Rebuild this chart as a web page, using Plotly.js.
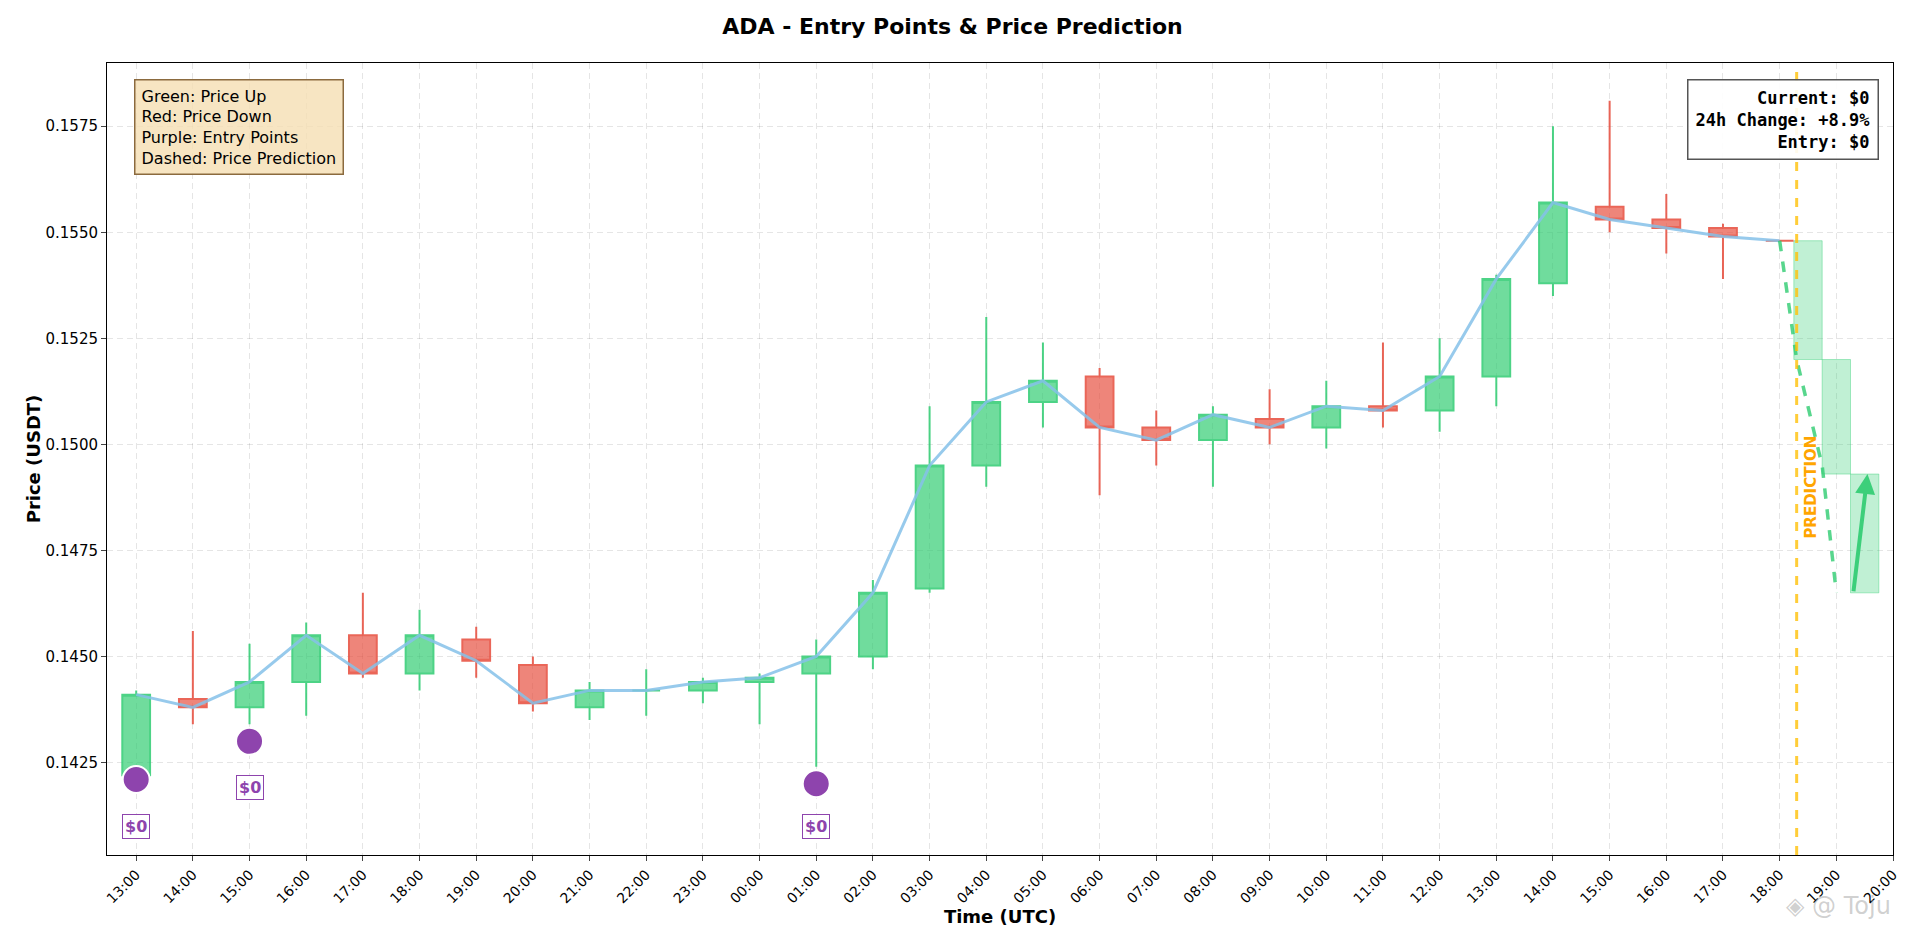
<!DOCTYPE html>
<html>
<head>
<meta charset="utf-8">
<script src="https://cdn.plot.ly/plotly-3.0.1.min.js"></script>
<style>
  html, body { margin: 0; padding: 0; background: #fff; }
  #plot { width: 1905px; height: 947px; }
</style>
</head>
<body>
<div id="plot"></div>
<script>
// hourly labels for the x axis (13:00 day 1 to 20:00 day 2)
var tickLabels = ['13:00','14:00','15:00','16:00','17:00','18:00','19:00','20:00','21:00','22:00','23:00',
  '00:00','01:00','02:00','03:00','04:00','05:00','06:00','07:00','08:00','09:00','10:00','11:00','12:00',
  '13:00','14:00','15:00','16:00','17:00','18:00','19:00','20:00'];

// candles, one per hour from index 0
var opens  = [0.1422,0.1440,0.1438,0.1444,0.1455,0.1446,0.1454,0.1448,0.1438,0.1442,0.1442,0.1444,0.1446,0.1450,0.1466,
  0.1495,0.1510,0.1516,0.1504,0.1501,0.1506,0.1504,0.1509,0.1508,0.1516,0.1538,0.1556,0.1553,0.1551,0.1548];
var closes = [0.1441,0.1438,0.1444,0.1455,0.1446,0.1455,0.1449,0.1439,0.1442,0.1442,0.1444,0.1445,0.1450,0.1465,0.1495,
  0.1510,0.1515,0.1504,0.1501,0.1507,0.1504,0.1509,0.1508,0.1516,0.1539,0.1557,0.1553,0.1551,0.1549,0.1548];
var highs  = [0.1442,0.1456,0.1453,0.1458,0.1465,0.1461,0.1457,0.1450,0.1444,0.1447,0.1445,0.1446,0.1454,0.1468,0.1509,
  0.1530,0.1524,0.1518,0.1508,0.1509,0.1513,0.1515,0.1524,0.1525,0.1540,0.1575,0.1581,0.1559,0.1552,0.1548];
var lows   = [0.1422,0.1434,0.1434,0.1436,0.1445,0.1442,0.1445,0.1437,0.1435,0.1436,0.1439,0.1434,0.1424,0.1447,0.1465,
  0.1490,0.1504,0.1488,0.1495,0.1490,0.1500,0.1499,0.1504,0.1503,0.1509,0.1535,0.1550,0.1545,0.1539,0.1548];

// entry points
var entryX = [0, 2, 12];
var entryY = [0.1421, 0.1430, 0.1420];
var entryLabelY = [0.1410, 0.1419, 0.1410];

// prediction
var predBoxX = [29.5, 30, 30.5];
var predBoxLow = [0.1520, 0.1493, 0.1465];
var predBoxHigh = [0.1548, 0.1520, 0.1493];
var predLineX = [29, 29.3, 29.75, 30];
var predLineY = [0.1548, 0.1520, 0.1495, 0.1465];
var predStartX = 29.3;

var idx = closes.map(function (_, i) { return i; });
var green = '#2ecc71', red = '#e74c3c';

var traces = [
  {
    type: 'candlestick', x: idx, open: opens, high: highs, low: lows, close: closes,
    increasing: { line: { color: green, width: 2 }, fillcolor: 'rgba(46,204,113,0.8)' },
    decreasing: { line: { color: red, width: 2 }, fillcolor: 'rgba(231,76,60,0.8)' },
    whiskerwidth: 0, opacity: 0.85, hoverinfo: 'skip', showlegend: false
  },
  {
    type: 'scatter', mode: 'lines', x: idx, y: closes,
    line: { color: '#85c1e9', width: 3 }, opacity: 0.85, showlegend: false, hoverinfo: 'skip'
  },
  {
    type: 'bar', x: predBoxX,
    base: predBoxLow, y: predBoxHigh.map(function (h, i) { return h - predBoxLow[i]; }),
    width: 0.5, marker: { color: 'rgba(46,204,113,0.3)', line: { color: 'rgba(46,204,113,0.4)', width: 1 } },
    showlegend: false, hoverinfo: 'skip'
  },
  {
    type: 'scatter', mode: 'lines', x: predLineX, y: predLineY,
    line: { color: 'rgba(46,204,113,0.8)', width: 3.5, dash: 'dash' }, showlegend: false, hoverinfo: 'skip'
  },
  {
    type: 'scatter', mode: 'markers', x: entryX, y: entryY,
    marker: { color: '#8e44ad', size: 27, line: { color: '#fff', width: 2 } }, showlegend: false, hoverinfo: 'skip'
  }
];

var annotations = [
  {
    xref: 'paper', yref: 'paper', x: 0.015, y: 0.98, xanchor: 'left', yanchor: 'top', align: 'left',
    text: 'Green: Price Up<br>Red: Price Down<br>Purple: Entry Points<br>Dashed: Price Prediction',
    showarrow: false, font: { family: 'DejaVu Sans', size: 16, color: '#000' },
    bgcolor: 'rgba(245,222,179,0.8)', bordercolor: '#8b6a3e', borderwidth: 1.5, borderpad: 6
  },
  {
    xref: 'paper', yref: 'paper', x: 0.992, y: 0.98, xanchor: 'right', yanchor: 'top', align: 'right',
    text: '<b>Current: $0<br>24h Change: +8.9%<br>Entry: $0</b>',
    showarrow: false, font: { family: 'DejaVu Sans Mono', size: 17, color: '#000' },
    bgcolor: 'rgba(255,255,255,0.9)', bordercolor: '#555', borderwidth: 1.5, borderpad: 7
  },
  {
    x: predStartX + 0.25, y: 0.1490, text: '<b>PREDICTION</b>', textangle: -90, showarrow: false,
    font: { family: 'DejaVu Sans', size: 15, color: '#ffa500' }
  },
  {
    x: 30.55, y: 0.1493, ax: 30.3, ay: 0.1465, axref: 'x', ayref: 'y', showarrow: true, text: '',
    arrowhead: 2, arrowsize: 1, arrowwidth: 4, arrowcolor: 'rgba(46,204,113,0.9)'
  },
  {
    xref: 'paper', yref: 'paper', x: 1.0, y: -0.085, xanchor: 'right', showarrow: false,
    text: '\u25C8 @ Toju', font: { family: 'DejaVu Sans', size: 24, color: 'rgba(150,150,150,0.45)' }
  }
];
entryX.forEach(function (x, i) {
  annotations.push({
    x: x, y: entryLabelY[i], text: '<b>$0</b>', showarrow: false,
    font: { family: 'DejaVu Sans', size: 16, color: '#8e44ad' },
    bgcolor: 'rgba(255,255,255,0.9)', bordercolor: '#8e44ad', borderwidth: 1, borderpad: 2
  });
});

var layout = {
  width: 1905, height: 947,
  margin: { l: 107, r: 12, t: 63, b: 92 },
  paper_bgcolor: '#fff', plot_bgcolor: '#fff',
  title: { text: '<b>ADA - Entry Points &amp; Price Prediction</b>', x: 0.5, y: 0.98, yanchor: 'top',
    font: { family: 'DejaVu Sans', size: 22, color: '#000' } },
  font: { family: 'DejaVu Sans', color: '#000' },
  bargap: 0,
  xaxis: {
    range: [-0.515, 31], tickmode: 'array', tickvals: tickLabels.map(function (_, i) { return i; }),
    ticktext: tickLabels, tickangle: -45, tickfont: { size: 14 },
    showgrid: true, gridcolor: 'rgba(0,0,0,0.1)', griddash: '6px,4px',
    showline: true, linecolor: '#000', mirror: true, ticks: 'outside', ticklen: 5,
    rangeslider: { visible: false }, zeroline: false,
    title: { text: '<b>Time (UTC)</b>', font: { size: 18 }, standoff: 4 }
  },
  yaxis: {
    range: [0.14032, 0.15899], tickformat: '.4f', tickfont: { size: 15 },
    tickmode: 'array', tickvals: [0.1425,0.1450,0.1475,0.1500,0.1525,0.1550,0.1575],
    showgrid: true, gridcolor: 'rgba(0,0,0,0.1)', griddash: '6px,4px',
    showline: true, linecolor: '#000', mirror: true, ticks: 'outside', ticklen: 5, zeroline: false,
    title: { text: '<b>Price (USDT)</b>', font: { size: 18 } }
  },
  shapes: [
    { type: 'line', x0: predStartX, x1: predStartX, yref: 'paper', y0: 0, y1: 1,
      line: { color: 'rgba(255,193,7,0.8)', width: 3, dash: 'dash' } }
  ],
  annotations: annotations
};

Plotly.newPlot('plot', traces, layout, { displayModeBar: false, staticPlot: true });
</script>
</body>
</html>
